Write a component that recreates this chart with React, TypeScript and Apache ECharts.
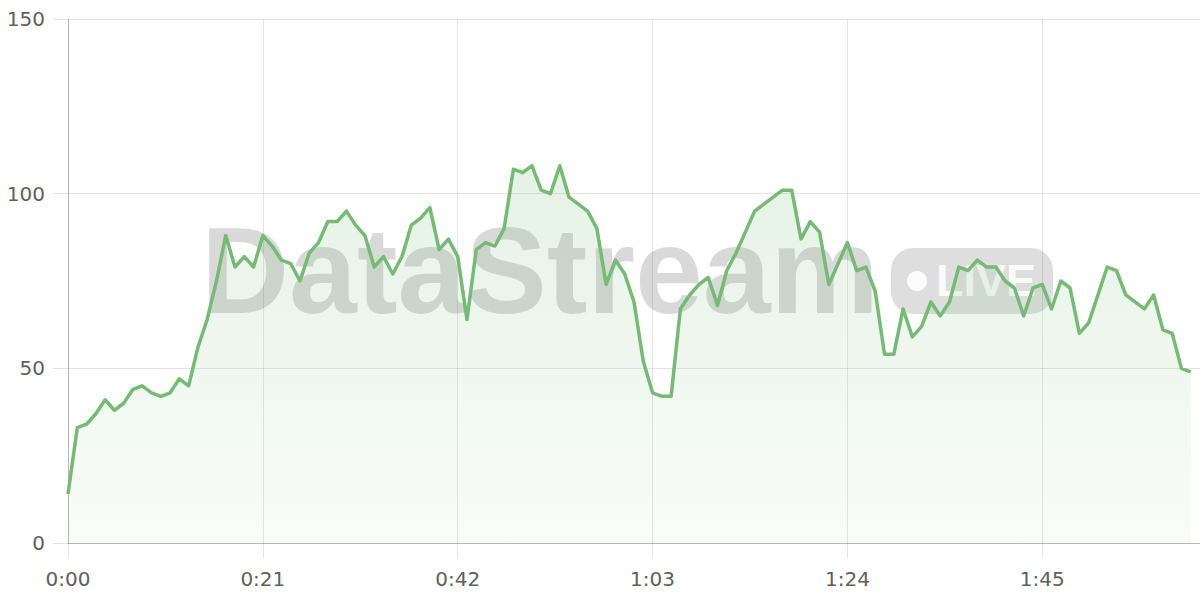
import React, { useEffect, useRef } from "react";
import * as echarts from "echarts";

// Seconds elapsed (x) and value (y), one sample per second
const values: number[] = [
  14, 33, 34, 37, 41, 38, 40, 44, 45, 43, 42, 43, 47, 45, 56, 64, 75, 88, 79, 82, 79, 88,
  85, 81, 80, 75, 83, 86, 92, 92, 95, 91, 88, 79, 82, 77, 82, 91, 93, 96, 84, 87, 82,
  64, 84, 86, 85, 90, 107, 106, 108, 101, 100, 108, 99, 97, 95, 90, 74, 81, 77, 69, 52, 43,
  42, 42, 67, 71, 74, 76, 68, 78, 83, 89, 95, 97, 99, 101, 101, 87, 92, 89, 74, 80, 86,
  78, 79, 72, 54, 54, 67, 59, 62, 69, 65, 69, 79, 78, 81, 79, 79, 75, 73, 65, 73, 74,
  67, 75, 73, 60, 63, 71, 79, 78, 71, 69, 67, 71, 61, 60, 50, 49,
];
const seconds: number[] = values.map((_, i) => i);

const xTickValues: number[] = [0, 21, 42, 63, 84, 105];
const xTickLabels: string[] = ["0:00", "0:21", "0:42", "1:03", "1:24", "1:45"];
const yTickLabels: string[] = ["0", "50", "100", "150"];

const watermarkTitle = "DataStream";
const watermarkBadge = "LIVE";

const LINE = "#76ba76";
const GRID = "rgba(0,0,0,0.1)";
const AXIS = "rgba(0,0,0,0.2)";
const LABEL = "#606060";
const FONT = '"DejaVu Sans", sans-serif';

export default function App() {
  const ref = useRef<HTMLDivElement>(null);
  useEffect(() => {
    if (!ref.current) return;
    const chart = echarts.init(ref.current, null, { renderer: "svg" });
    const data = seconds.map((s, i) => [s, values[i]]);
    chart.setOption({
      animation: false,
      backgroundColor: "#ffffff",
      grid: { left: 68, right: 0, top: 19, bottom: 57, containLabel: false, outerBoundsMode: "none" },
      xAxis: {
        type: "value",
        min: 0,
        max: 122,
        interval: 21,
        axisLine: { show: true, onZero: false, lineStyle: { color: AXIS, width: 1 } },
        axisTick: { show: true, length: 15, lineStyle: { color: GRID, width: 1 } },
        splitLine: { show: true, lineStyle: { color: GRID, width: 1 } },
        axisLabel: {
          showMaxLabel: false,
          margin: 26,
          color: LABEL,
          fontFamily: FONT,
          fontSize: 20,
          formatter: (v: number) => {
            const idx = xTickValues.indexOf(v);
            return idx >= 0 ? xTickLabels[idx] : "";
          },
        },
      },
      yAxis: {
        type: "value",
        min: 0,
        max: 150,
        interval: 50,
        axisLine: { show: true, lineStyle: { color: AXIS, width: 1 } },
        axisTick: { show: true, length: 15, lineStyle: { color: GRID, width: 1 } },
        splitLine: { show: true, lineStyle: { color: GRID, width: 1 } },
        axisLabel: {
          margin: 23,
          color: LABEL,
          fontFamily: FONT,
          fontSize: 20,
          formatter: (v: number) => yTickLabels[Math.round(v / 50)] ?? String(v),
        },
      },
      graphic: [
        {
          type: "text",
          z: 1,
          x: 201,
          y: 271,
          style: {
            text: watermarkTitle,
            font: 'bold 122px "Liberation Sans", Arial, sans-serif',
            fill: "rgba(0,0,0,0.15)",
            align: "left",
            verticalAlign: "middle",
          },
        },
        {
          type: "rect",
          z: 1,
          shape: { x: 891, y: 248, width: 162, height: 66, r: 22 },
          style: { fill: "rgba(0,0,0,0.13)" },
        },
        {
          type: "circle",
          z: 1,
          shape: { cx: 917, cy: 281, r: 10 },
          style: { fill: "rgba(255,255,255,0.9)" },
        },
        {
          type: "text",
          z: 1,
          x: 936,
          y: 280,
          style: {
            text: watermarkBadge,
            font: 'bold 45px "Liberation Sans", Arial, sans-serif',
            fill: "rgba(255,255,255,0.9)",
            align: "left",
            verticalAlign: "middle",
          },
        },
      ],
      series: [
        {
          type: "line",
          data,
          z: 2,
          showSymbol: false,
          symbol: "none",
          smooth: false,
          lineStyle: { color: LINE, width: 3.5, join: "round" },
          itemStyle: { color: LINE },
          areaStyle: {
            color: new echarts.graphic.LinearGradient(0, 0, 0, 1, [
              { offset: 0, color: "rgba(116,184,116,0.26)" },
              { offset: 1, color: "rgba(116,184,116,0.06)" },
            ]),
          },
        },
      ],
    });
    return () => chart.dispose();
  }, []);
  return (
    <div
      ref={ref}
      style={{ position: "fixed", left: 0, top: 0, width: 1200, height: 600, background: "#fff" }}
    />
  );
}
